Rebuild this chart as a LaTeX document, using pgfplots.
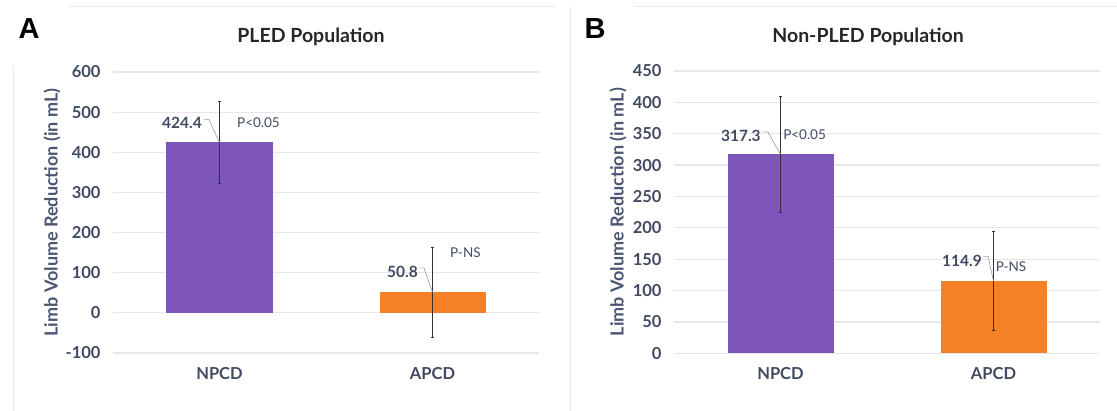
\documentclass[border=0pt]{standalone}
\usepackage{pgfplots}
\pgfplotsset{compat=1.18}
\usepackage{fontspec}
\setmainfont{Lato}
\newfontfamily\letterfont{Liberation Sans}
\definecolor{barpurple}{HTML}{7E55B9}
\definecolor{barorange}{HTML}{F58025}
\definecolor{ticktext}{HTML}{404A60}
\definecolor{ylabtext}{HTML}{4A5673}
\definecolor{gridc}{HTML}{E6E7EC}
\definecolor{framec}{HTML}{E9E9E9}
\tikzset{
  vlab/.style={font=\fontsize{15.5}{15.5}\selectfont\bfseries, text=ticktext, inner sep=0pt},
  plab/.style={font=\fontsize{13.5}{13.5}\selectfont, text=ticktext, inner sep=0pt},
  lead/.style={draw=black!40, line width=0.6pt},
}
\pgfplotsset{
  panel/.style={
    scale only axis, width=426pt,
    xmin=-0.5, xmax=1.5,
    xtick={0,1}, xticklabels={NPCD,APCD},
    axis line style={draw=none},
    major tick length=0pt,
    ymajorgrids, grid style={gridc, line width=1.2pt},
    /pgf/number format/assume math mode=true,
    /pgf/number format/.cd, 1000 sep={}, /pgfplots/.cd,
    yticklabel style={font=\fontsize{16.5}{16.5}\selectfont\bfseries, text=ticktext, xshift=-9pt},
    xticklabel style={font=\fontsize{16.5}{16.5}\selectfont\bfseries, text=ticktext, yshift=-10.5pt},
    ylabel={Limb Volume Reduction (in mL)},
    clip=false,
  },
  ebar/.style={
    error bars/.cd, y dir=both, y explicit,
    error bar style={line width=0.9pt, color=black!80},
    error mark options={rotate=90, mark size=1.5pt, line width=0.9pt, color=black!80},
  },
}
\begin{document}
\begin{tikzpicture}[x=1pt,y=1pt]
\useasboundingbox (0,0) rectangle (1117,411);
% faint panel frames
\draw[framec, line width=1pt] (68,404) -- (556,404);
\draw[framec, line width=1pt] (13,345) -- (13,0);
\draw[framec, line width=1pt] (634,404) -- (1117,404);
\draw[framec, line width=1pt] (570,404) -- (570,0);
% panel letters
\node[font=\letterfont\fontsize{29}{29}\selectfont\bfseries] at (29,382) {A};
\node[font=\letterfont\fontsize{29}{29}\selectfont\bfseries] at (595,382) {B};
% titles
\node[font=\fontsize{19.5}{19.5}\selectfont\bfseries, text=black!85] at (311,374) {PLED Population};
\node[font=\fontsize{19.5}{19.5}\selectfont\bfseries, text=black!85] at (868,374) {Non-PLED Population};

\begin{axis}[panel, at={(113pt,58pt)}, anchor=south west, height=281pt,
  ymin=-100, ymax=600, ytick={-100,0,...,600},
  every axis y label/.style={at={(axis description cs:-0.143,0.5)}, rotate=90, anchor=center,
      font=\fontsize{18}{18}\selectfont\bfseries, text=ylabtext}]
\addplot[ybar, bar width=106pt, fill=barpurple, draw=none, ebar]
  coordinates {(0,424.4) +- (0,102)};
\addplot[ybar, bar width=106pt, fill=barorange, draw=none, ebar]
  coordinates {(1,50.8) +- (0,113)};
\node[vlab, anchor=east] at (axis cs:-0.082,472) {424.4};
\draw[lead] (axis cs:-0.075,482) -- (axis cs:-0.05,482) -- (axis cs:0,424.4);
\node[plab, anchor=west] at (axis cs:0.082,474) {P<0.05};
\node[vlab, anchor=east] at (axis cs:0.932,101) {50.8};
\draw[lead] (axis cs:0.938,112) -- (axis cs:0.96,112) -- (axis cs:1,50.8);
\node[plab, anchor=west] at (axis cs:1.082,149) {P-NS};
\end{axis}

\begin{axis}[panel, at={(674pt,57.7pt)}, anchor=south west, height=282.3pt,
  ymin=0, ymax=450, ytick={0,50,...,450},
  every axis y label/.style={at={(axis description cs:-0.1315,0.5)}, rotate=90, anchor=center,
      font=\fontsize{18}{18}\selectfont\bfseries, text=ylabtext}]
\addplot[ybar, bar width=106pt, fill=barpurple, draw=none, ebar]
  coordinates {(0,317.3) +- (0,92)};
\addplot[ybar, bar width=106pt, fill=barorange, draw=none, ebar]
  coordinates {(1,114.9) +- (0,79)};
\node[vlab, anchor=east] at (axis cs:-0.092,346) {317.3};
\draw[lead] (axis cs:-0.085,353) -- (axis cs:-0.06,353) -- (axis cs:0,317.3);
\node[plab, anchor=west] at (axis cs:0.012,348) {P<0.05};
\node[vlab, anchor=east] at (axis cs:0.946,147) {114.9};
\draw[lead] (axis cs:0.953,154) -- (axis cs:0.975,154) -- (axis cs:1,114.9);
\node[plab, anchor=west] at (axis cs:1.01,137.6) {P-NS};
\end{axis}
\end{tikzpicture}
\end{document}
